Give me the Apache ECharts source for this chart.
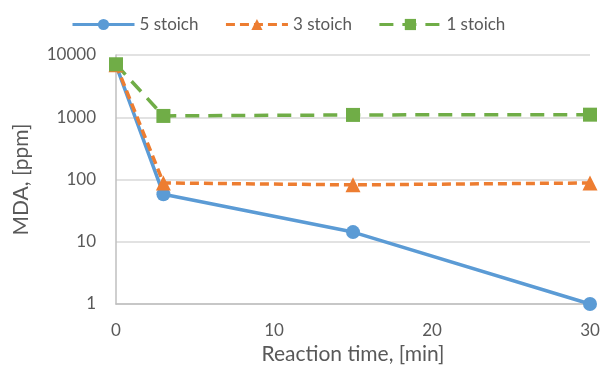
<!DOCTYPE html>
<html><head><meta charset="utf-8">
<script src="https://cdn.jsdelivr.net/npm/echarts@6/dist/echarts.min.js"></script>
<style>html,body{margin:0;padding:0;background:#fff}#c{width:602px;height:367px}</style>
</head><body><div id="c"></div>
<script>
const times = [0, 3, 15, 30];
const stoich5 = [6900, 58, 14.3, 1];
const stoich3 = [7000, 88, 82, 88];
const stoich1 = [7100, 1050, 1090, 1100];
const seriesNames = ['5 stoich', '3 stoich', '1 stoich'];
const xTicks = [0, 10, 20, 30];
const yTicks = [1, 10, 100, 1000, 10000];

const FONT = 'Lato, "Open Sans", sans-serif';
const TXT = '#595959';
const chart = echarts.init(document.getElementById('c'));
const pair = arr => times.map((t, i) => [t, arr[i]]);
chart.setOption({
  animation: false,
  textStyle: { fontFamily: FONT },
  legend: {
    top: 11, left: 66, itemWidth: 62, itemHeight: 14, itemGap: 26,
    lineStyle: { width: 3 },
    textStyle: { fontSize: 17, color: TXT, fontFamily: FONT },
    data: seriesNames
  },
  grid: { left: 116, right: 12, top: 55, bottom: 63, outerBoundsMode: 'none', containLabel: false },
  xAxis: {
    type: 'value', min: 0, max: 30, interval: 10,
    name: 'Reaction time, [min]', nameLocation: 'middle', nameGap: 32,
    nameTextStyle: { fontSize: 21, color: TXT, fontFamily: FONT },
    axisLine: { lineStyle: { color: '#bfbfbf', width: 1.5 } },
    axisTick: { show: false },
    splitLine: { show: false },
    axisLabel: { fontSize: 17, color: TXT, margin: 18, fontFamily: FONT }
  },
  yAxis: {
    type: 'log', logBase: 10, min: 1, max: 10000,
    name: 'MDA, [ppm]', nameLocation: 'middle', nameGap: 84, nameRotate: 90,
    nameTextStyle: { fontSize: 21, color: TXT, fontFamily: FONT },
    axisLine: { show: true, lineStyle: { color: '#bfbfbf', width: 1.5 } },
    axisTick: { show: false },
    splitLine: { show: true, lineStyle: { color: '#d9d9d9', width: 1.5 } },
    axisLabel: { fontSize: 17, color: TXT, margin: 20, fontFamily: FONT,
      formatter: v => String(Math.round(v)) }
  },
  series: [
    { name: seriesNames[0], type: 'line', data: pair(stoich5),
      symbol: 'circle', symbolSize: 14,
      lineStyle: { color: '#5b9bd5', width: 3.5 }, itemStyle: { color: '#5b9bd5' } },
    { name: seriesNames[1], type: 'line', data: pair(stoich3),
      symbol: 'triangle', symbolSize: 15,
      lineStyle: { color: '#ed7d31', width: 3.5, type: [9, 5] }, itemStyle: { color: '#ed7d31' } },
    { name: seriesNames[2], type: 'line', data: pair(stoich1),
      symbol: 'rect', symbolSize: 14,
      lineStyle: { color: '#70ad47', width: 3.5, type: [14, 9] }, itemStyle: { color: '#70ad47' } }
  ]
});
</script></body></html>
